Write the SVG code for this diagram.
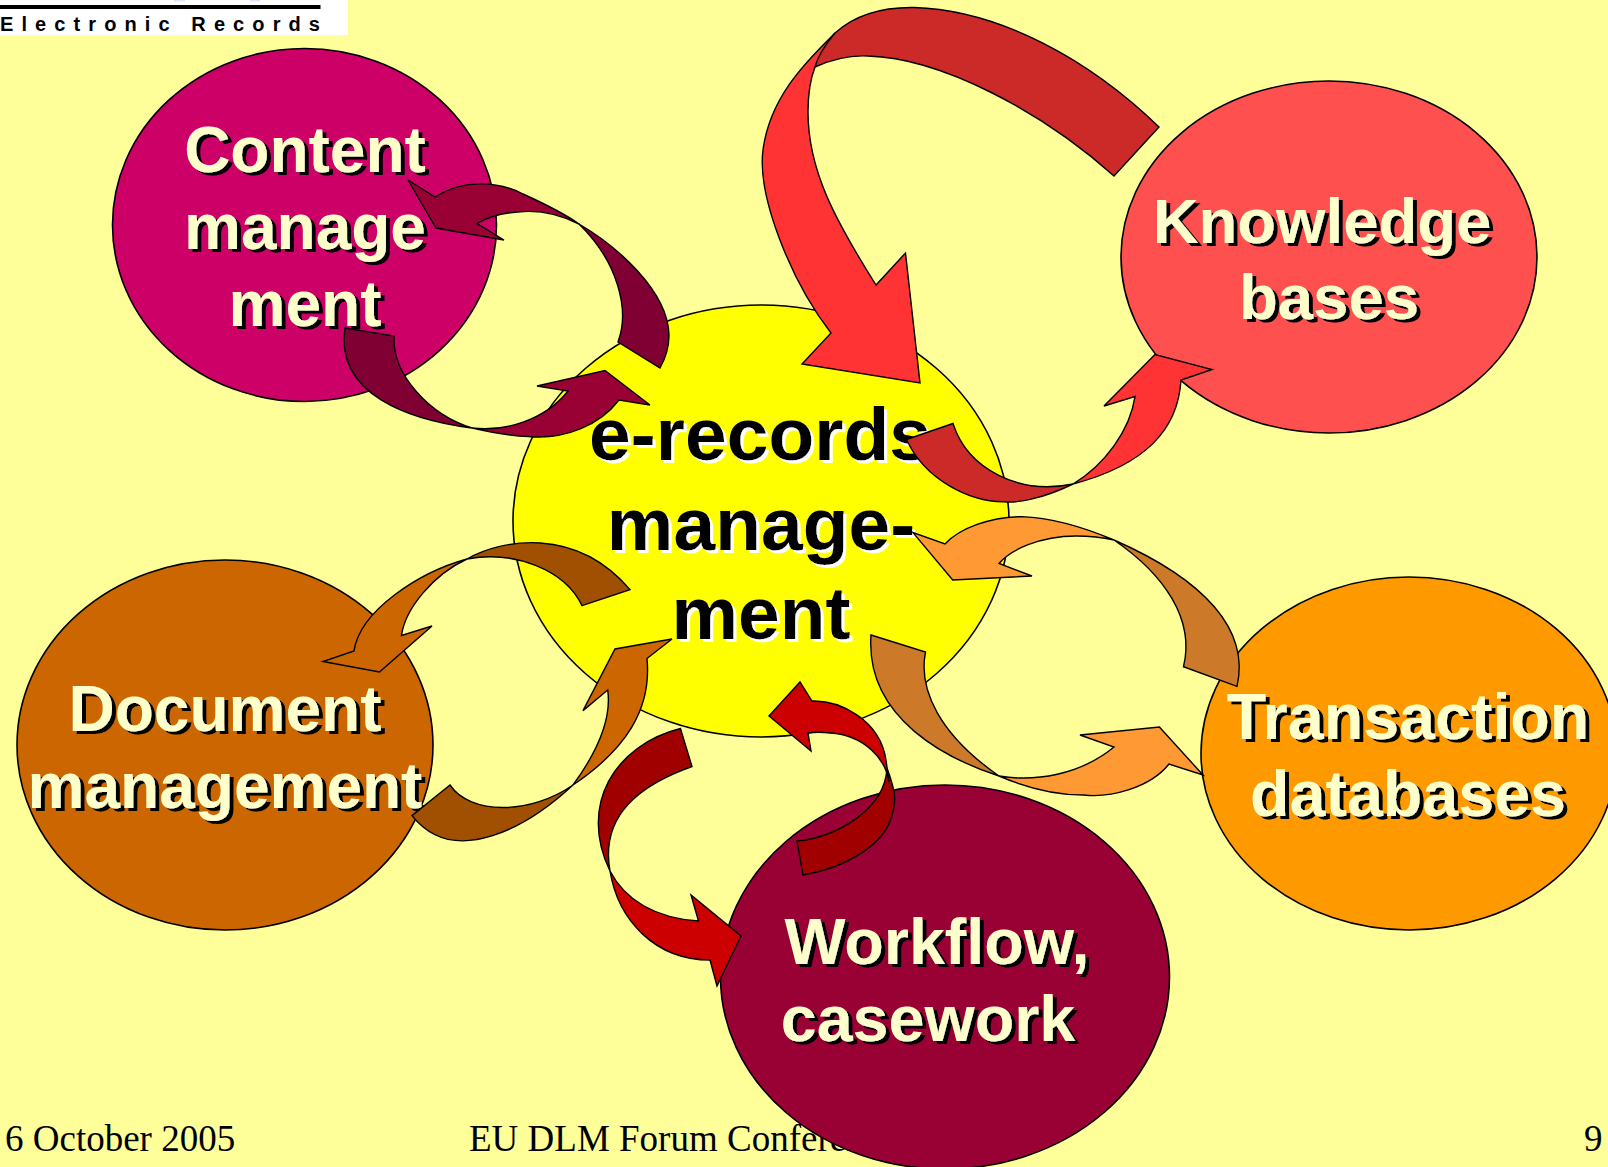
<svg xmlns="http://www.w3.org/2000/svg" width="1608" height="1167" viewBox="0 0 1608 1167">
<defs>
<filter id="sd" x="-10%" y="-10%" width="120%" height="120%"><feDropShadow dx="4" dy="3" stdDeviation="0" flood-color="#000"/></filter>
<filter id="sl" x="-10%" y="-10%" width="120%" height="120%"><feDropShadow dx="3" dy="3" stdDeviation="0" flood-color="#fff"/></filter>
</defs>
<style>
.n{stroke:#000;stroke-width:1.6}
.a{stroke:#000;stroke-width:1.4;stroke-linejoin:miter}
.t{font-family:"Liberation Sans",Arial,sans-serif;font-weight:700;font-size:64px;text-anchor:middle;fill:#FFFFCC;filter:url(#sd)}
.c{font-size:75px;fill:#000;filter:url(#sl)}
.k{font-size:63.500px}
.w{font-size:64.600px}
.f{font-family:"Liberation Serif","Times New Roman",serif;font-size:37px;fill:#000}
</style>
<rect width="1608" height="1167" fill="#FFFF99"/>
<g id="logo">
<rect width="348" height="35" fill="#fff"/>
<rect x="174" y="0" width="11" height="1.500" fill="#DDE4FF"/>
<rect x="250" y="0" width="10" height="1.500" fill="#DDE4FF"/>
<rect x="0" y="5" width="320.500" height="4" fill="#000"/>
<text x="0" y="31" font-family="'Liberation Sans',Arial,sans-serif" font-weight="700" font-size="20" letter-spacing="8.100" fill="#000">Electronic Records</text>
</g>
<g id="footer">
<text class="f" x="5" y="1151">6 October 2005</text>
<text class="f" x="469" y="1151">EU DLM Forum Conference</text>
<text class="f" x="1584" y="1151">9</text>
</g>
<g id="node-center">
<ellipse class="n" cx="761" cy="521" rx="248" ry="216" fill="#FFFF00"/>
<g class="t c"><text x="760" y="460">e-records</text><text x="761" y="550">manage-</text><text x="761" y="639">ment</text></g>
</g>
<g id="node-content">
<ellipse class="n" cx="304.500" cy="225" rx="192" ry="176.500" fill="#CC0066"/>
<g class="t"><text x="305" y="172">Content</text><text x="305" y="249">manage</text><text x="305" y="326">ment</text></g>
</g>
<g id="node-knowledge">
<ellipse class="n" cx="1329" cy="257" rx="208" ry="176" fill="#FF5050"/>
<g class="t k"><text x="1322" y="243">Knowledge</text><text x="1329" y="319">bases</text></g>
</g>
<g id="node-document">
<ellipse class="n" cx="225" cy="745" rx="208" ry="185" fill="#CC6600"/>
<g class="t"><text x="225" y="731">Document</text><text x="225" y="808">management</text></g>
</g>
<g id="node-transaction">
<ellipse class="n" cx="1409" cy="753.500" rx="208" ry="176.500" fill="#FF9900"/>
<g class="t w"><text x="1408" y="739">Transaction</text><text x="1408" y="816">databases</text></g>
</g>
<g id="node-workflow">
<ellipse class="n" cx="945" cy="977" rx="224.500" ry="192" fill="#990033"/>
<g class="t w"><text x="937" y="964">Workflow,</text><text x="928" y="1041">casework</text></g>
</g>
<g id="connectors">
<path class="a" fill="#800033" d="M579,224C615,245 668,290 669,335Q669,352 660,368L618,342C630,310 618,262 579,224Z"/>
<path class="a" fill="#990033" d="M408,180L435,197C465,178 500,182 523,194C545,204 565,214 579,224C555,212 535,210 518,212C500,213 488,217 477,223.500L504,240L436,228Z"/>
<path class="a" fill="#800033" d="M345,328L394,336C392,375 430,415 472,428C410,420 335,395 345,328Z"/>
<path class="a" fill="#990033" d="M472,428C505,432 545,420 568,391L537,386L605,370.500L650,405L619,400C600,425 565,440 528,436.500C510,436 490,432 472,428Z"/>
<path class="a" fill="#FF3333" d="M835,33C810,58 770,95 763,150C757,195 790,280 831,333L802,364L920,383L905.500,253L876,285C835,220 808,170 808,112C808,95 810,80 815,67Z"/>
<path class="a" fill="#CC2929" d="M1159,127C1090,60 1000,10 914,7.500C880,7 855,15 835,33C825,45 818,55 815,67C835,58 850,55 868,56C940,58 1040,110 1114,176Z"/>
<path class="a" fill="#CC2929" d="M906.500,439.500L953,423.500C968,470 1020,495 1073,484C1040,500 1015,503 1004,501.700C970,502 925,480 906.500,439.500Z"/>
<path class="a" fill="#FF3333" d="M1073,484C1105,465 1130,430 1135,396.600L1104,406L1155,354.600L1212,369.500L1181,380C1178,430 1145,465 1073,484Z"/>
<path class="a" fill="#A05000" d="M582,605.600L630,589.600C575,525 500,540 467,559C515,550 565,570 582,605.600Z"/>
<path class="a" fill="#CC6600" d="M467,559C420,572 360,610 354,651L323,661.500L379.500,672L432,626L401.500,635.400C405,610 432,575 467,559Z"/>
<path class="a" fill="#A05000" d="M412,815.600L450,785C470,815 530,815 573,785C530,825 455,870 412,815.600Z"/>
<path class="a" fill="#CC6600" d="M573,785C595,755 612,720 607.700,690L583,710.600L615,649L672,639L647,658.500C652,710 625,750 573,785Z"/>
<path class="a" fill="#A00000" d="M680.500,728.500C615,745 578,805 610,871C600,815 640,785 692,766.500Z"/>
<path class="a" fill="#CC0000" d="M610,871C625,900 655,918 698.500,921L691,895L741,936L717,986L710,960C655,960 618,920 610,871Z"/>
<path class="a" fill="#A00000" d="M887,768C895,790 897,800 892,815C885,845 845,868 803,875L797,841C835,838 885,810 887,768Z"/>
<path class="a" fill="#CC0000" d="M769,716L800,682L812,701C840,700 880,720 886,760L889,782C886,760 865,735 830,733C822,732 815,732 808,733L811,751Z"/>
<path class="a" fill="#CC7A29" d="M871,635L925.500,652C918,690 940,735 999,776C950,760 865,720 871,635Z"/>
<path class="a" fill="#FF9933" d="M999,776C1035,782 1080,775 1114,747L1080,735L1159.400,727L1203,775L1169,764C1150,788 1110,798 1083.500,795C1050,795 1020,785 999,776Z"/>
<path class="a" fill="#CC7A29" d="M1237,686.400L1183.500,666.700C1195,620 1165,575 1114,540C1205,580 1250,630 1237,686.400Z"/>
<path class="a" fill="#FF9933" d="M1114,540C1095,532 1060,518 1022,516.600C990,517 960,528 945,544L913,532.600L952.700,580L1032,576L999,563.500C1010,550 1040,536 1076,536C1090,536 1105,538 1114,540Z"/>
</g>
</svg>
